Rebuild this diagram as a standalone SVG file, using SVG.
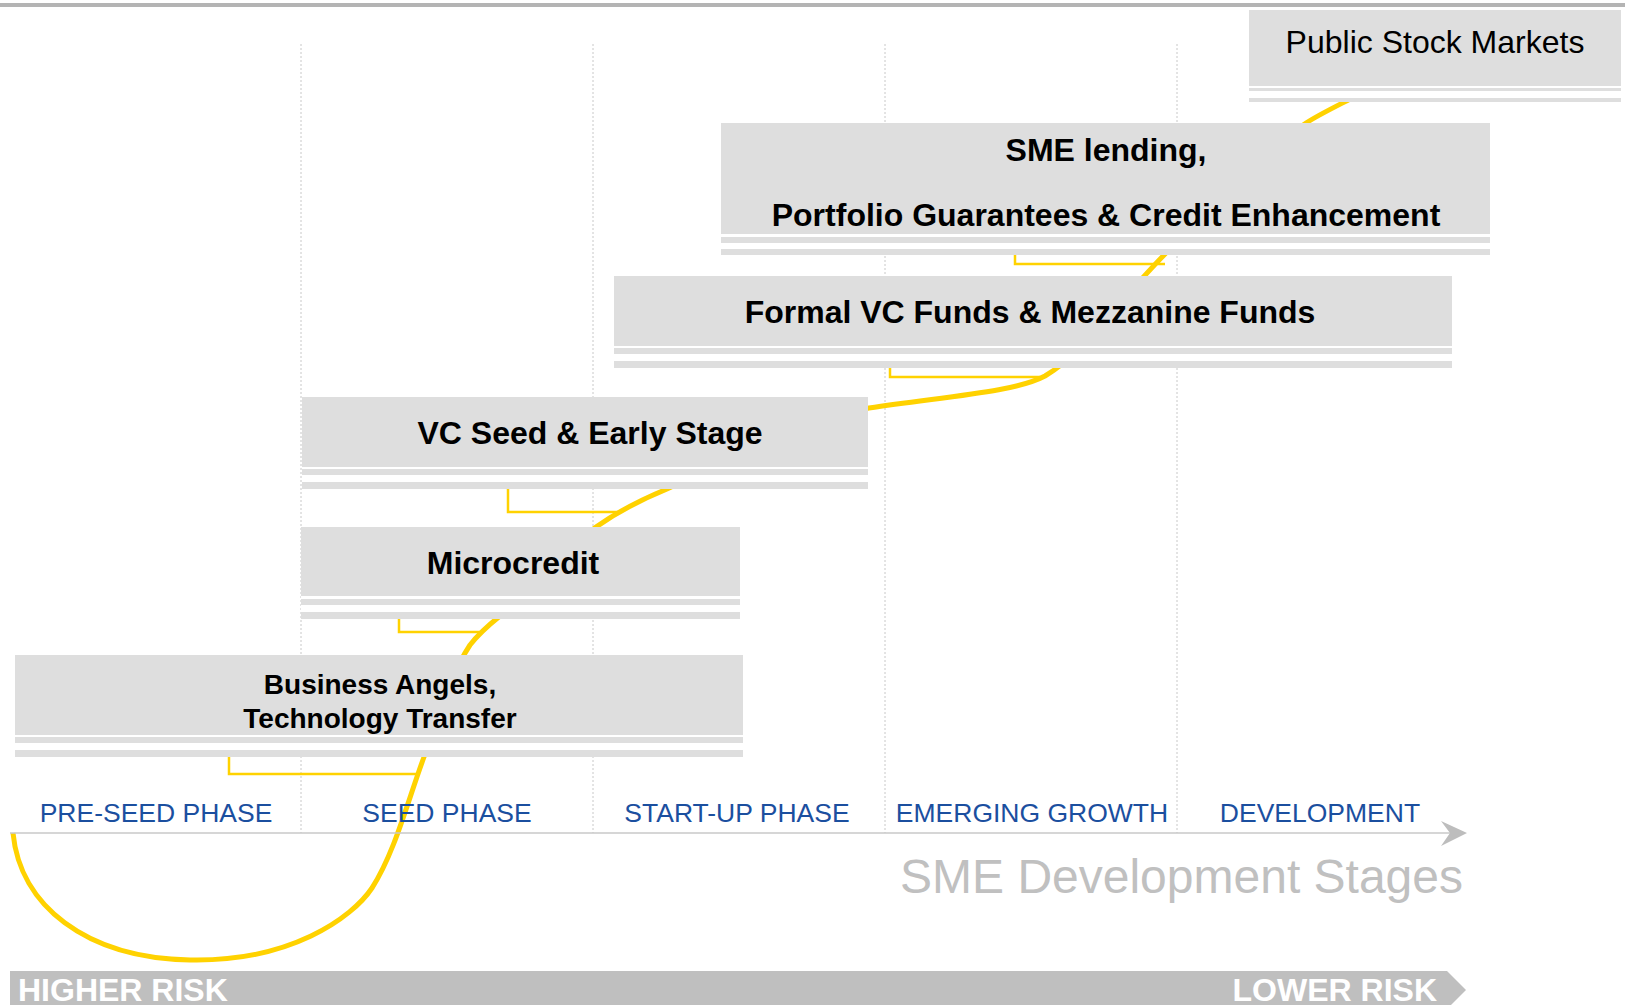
<svg xmlns="http://www.w3.org/2000/svg" width="1625" height="1005" viewBox="0 0 1625 1005">
<style>
.box{fill:#dedede}
.gap{fill:#ffffff}
.t{font-family:"Liberation Sans",Arial,sans-serif;font-weight:bold;font-size:32px;fill:#000;text-anchor:middle}
.ph{font-family:"Liberation Sans",Arial,sans-serif;font-size:26.5px;fill:#1b4f9f;text-anchor:middle}
.grid{stroke:#c8c8c8;stroke-width:1;stroke-dasharray:2 2;fill:none}
.br{stroke:#ffd200;stroke-width:2.5;fill:none}
.risk{font-family:"Liberation Sans",Arial,sans-serif;font-weight:bold;font-size:32px;fill:#ffffff}
</style>
<rect width="1625" height="1005" fill="#fff"/>
<rect x="0" y="3" width="1625" height="4" fill="#b4b4b4"/>
<g id="grid">
<line class="grid" x1="301" y1="44" x2="301" y2="833"/>
<line class="grid" x1="593" y1="44" x2="593" y2="833"/>
<line class="grid" x1="885" y1="44" x2="885" y2="833"/>
<line class="grid" x1="1177" y1="44" x2="1177" y2="833"/>
</g>
<g id="connectors">
<path d="M13 833 C20 905,85 958,190 960 C290 962,352 918,372 888 C395 852,408 800,424 757 C440 712,452 672,470 645 C480 632,490 624,500 616 C530 585,565 550,596 527 C620 510,645 498,667 489 C720 465,800 420,869 408 C950 396,1015 392,1045 376 C1085 352,1112 308,1166 253 C1200 215,1250 160,1306 123 C1320 114,1335 107,1360 94" fill="none" stroke="#ffd200" stroke-width="5"/>
<polyline class="br" points="1015,254 1015,264 1165,264"/>
<polyline class="br" points="890,368 890,377 1040,377"/>
<polyline class="br" points="508,489 508,512 621,512"/>
<polyline class="br" points="399,619 399,632 480,632"/>
<polyline class="br" points="229,757 229,774 418,774"/>
</g>
<g id="public">
<rect class="gap" x="1249" y="10" width="372" height="92"/>
<rect class="box" x="1249" y="10" width="372" height="76"/>
<rect class="box" x="1249" y="88" width="372" height="3"/>
<rect class="box" x="1249" y="98" width="372" height="4"/>
<text class="t" x="1435" y="53" style="font-weight:normal">Public Stock Markets</text>
</g>
<g id="sme">
<rect class="gap" x="721" y="123" width="769" height="131"/>
<rect class="box" x="721" y="123" width="769" height="111"/>
<rect class="box" x="721" y="237" width="769" height="6"/>
<rect class="box" x="721" y="249" width="769" height="6"/>
<text class="t" x="1106" y="161">SME lending,</text>
<text class="t" x="1106" y="226">Portfolio Guarantees &amp; Credit Enhancement</text>
</g>
<g id="formal">
<rect class="gap" x="614" y="276" width="838" height="92"/>
<rect class="box" x="614" y="276" width="838" height="70"/>
<rect class="box" x="614" y="348" width="838" height="6"/>
<rect class="box" x="614" y="361" width="838" height="7"/>
<text class="t" x="1030" y="323">Formal VC Funds &amp; Mezzanine Funds</text>
</g>
<g id="vcseed">
<rect class="gap" x="302" y="397" width="566" height="92"/>
<rect class="box" x="302" y="397" width="566" height="70"/>
<rect class="box" x="302" y="469" width="566" height="6"/>
<rect class="box" x="302" y="482" width="566" height="7"/>
<text class="t" x="590" y="444">VC Seed &amp; Early Stage</text>
</g>
<g id="microcredit">
<rect class="gap" x="301" y="527" width="439" height="92"/>
<rect class="box" x="301" y="527" width="439" height="69"/>
<rect class="box" x="301" y="599" width="439" height="6"/>
<rect class="box" x="301" y="612" width="439" height="7"/>
<text class="t" x="513" y="574">Microcredit</text>
</g>
<g id="angels">
<rect class="gap" x="15" y="655" width="728" height="102"/>
<rect class="box" x="15" y="655" width="728" height="80"/>
<rect class="box" x="15" y="737" width="728" height="6"/>
<rect class="box" x="15" y="750" width="728" height="7"/>
<text class="t" x="380" y="694" style="font-size:28px">Business Angels,</text>
<text class="t" x="380" y="728" style="font-size:28px">Technology Transfer</text>
</g>
<g id="axis">
<line x1="10" y1="833" x2="1455" y2="833" stroke="#c8c8c8" stroke-width="1.5"/>
<polygon points="1441,821 1467,833 1441,846 1450,833" fill="#bdbdbd"/>
<text class="ph" x="156" y="822">PRE-SEED PHASE</text>
<text class="ph" x="447" y="822">SEED PHASE</text>
<text class="ph" x="737" y="822">START-UP PHASE</text>
<text class="ph" x="1032" y="822">EMERGING GROWTH</text>
<text class="ph" x="1320" y="822">DEVELOPMENT</text>
<text x="1463" y="893" font-family="Liberation Sans, Arial, sans-serif" font-size="48" fill="#c0c0c0" text-anchor="end">SME Development Stages</text>
</g>
<g id="riskbar">
<polygon points="10,971 1447,971 1466,990 1447,1009 10,1009" fill="#bfbfbf"/>
<text class="risk" x="18" y="1001">HIGHER RISK</text>
<text class="risk" x="1437" y="1001" text-anchor="end">LOWER RISK</text>
</g>
</svg>
